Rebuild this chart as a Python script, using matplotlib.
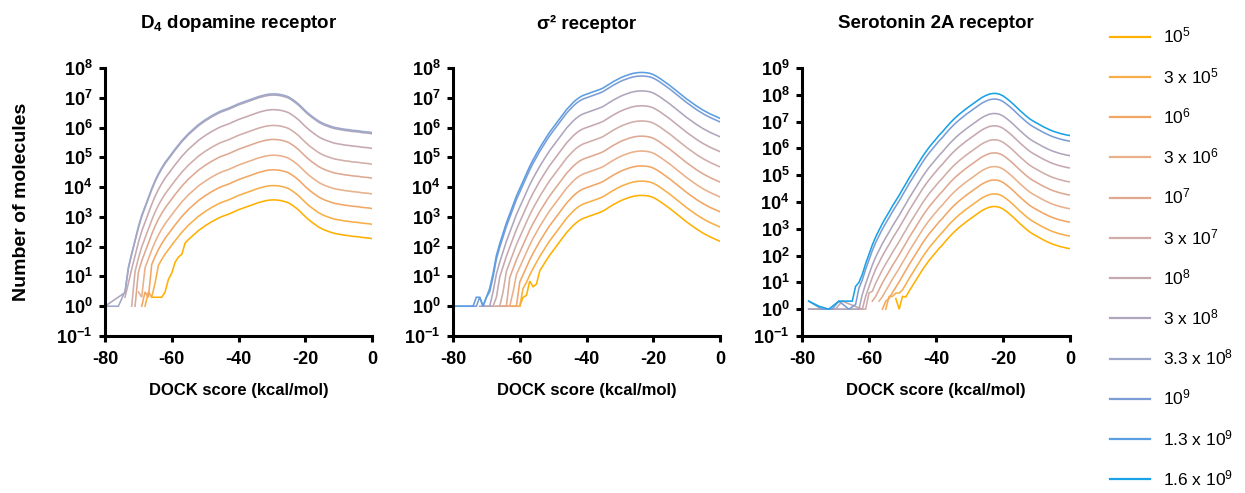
import matplotlib
matplotlib.use('Agg')
import matplotlib.pyplot as plt
from matplotlib.lines import Line2D

plt.rcParams['font.family'] = ['Liberation Sans', 'DejaVu Sans']
plt.rcParams['mathtext.fontset'] = 'custom'
plt.rcParams['mathtext.rm'] = 'Liberation Sans'
plt.rcParams['mathtext.bf'] = 'Liberation Sans:bold'
plt.rcParams['mathtext.default'] = 'regular'

# library sizes (legend) and their line colours
lib_labels = ['10$^{5}$', '3 x 10$^{5}$', '10$^{6}$', '3 x 10$^{6}$', '10$^{7}$', '3 x 10$^{7}$',
              '10$^{8}$', '3 x 10$^{8}$', '3.3 x 10$^{8}$', '10$^{9}$', '1.3 x 10$^{9}$', '1.6 x 10$^{9}$']
lib_colors = ['#FFB000', '#F8AE48', '#F2A664', '#E9B08A', '#DEA891', '#D0ADA8',
              '#C6A8AF', '#AFA5BC', '#9DA8CA', '#7B9DD6', '#5B9EE1', '#1AA2E7']

# ---- D4 dopamine receptor ----
# log10(count) of the largest library, one value per kcal/mol bin
d4_scores = list(range(-74, 1))
d4_top_log = [0.5, 1.3, 1.78, 2.22, 2.67, 3.05, 3.35, 3.65, 3.95, 4.22,
              4.45, 4.65, 4.83, 4.98, 5.13, 5.28, 5.42, 5.56, 5.68, 5.8,
              5.9, 6.0, 6.1, 6.18, 6.26, 6.33, 6.4, 6.46, 6.52, 6.57,
              6.61, 6.65, 6.7, 6.75, 6.8, 6.84, 6.88, 6.92, 6.96, 7.0,
              7.04, 7.07, 7.1, 7.12, 7.13, 7.13, 7.12, 7.1, 7.07, 7.03,
              6.96, 6.88, 6.79, 6.68, 6.57, 6.47, 6.38, 6.3, 6.22, 6.16,
              6.11, 6.07, 6.03, 6.0, 5.98, 5.96, 5.94, 5.93, 5.91, 5.9,
              5.89, 5.87, 5.86, 5.85, 5.83]
d4_ids = [0, 1, 2, 3, 4, 5, 6, 7, 8]
d4_peak_log = [3.57, 4.05, 4.58, 5.07, 5.6, 6.07, 6.6, 7.09, 7.13]
d4_head_x = [[-66, -65, -64, -63, -62, -61, -60, -59, -58, -57], [-68, -67, -66, -65],
             [-69, -68, -67], [-70, -69], [-71], [-72], [-74], [-80], [-80, -76]]
d4_head_y = [[2, 2, 2, 2, 3, 8, 13, 30, 45, 55], [1, 3, 2, 6],
             [1, 3, 2], [3, 2], [1], [1], [2], [1], [1, 1]]

# ---- sigma2 receptor ----
s2_scores = list(range(-69, 1))
s2_top_log = [0.6, 1.1, 1.7, 2.1, 2.45, 2.8, 3.1, 3.4, 3.7, 3.95,
              4.2, 4.45, 4.7, 4.92, 5.12, 5.32, 5.5, 5.68, 5.85, 6.0,
              6.15, 6.3, 6.45, 6.6, 6.72, 6.84, 6.94, 7.02, 7.08, 7.12,
              7.16, 7.2, 7.24, 7.28, 7.33, 7.4, 7.47, 7.54, 7.6, 7.66,
              7.71, 7.75, 7.79, 7.82, 7.84, 7.85, 7.85, 7.84, 7.82, 7.78,
              7.72, 7.65, 7.57, 7.49, 7.41, 7.32, 7.23, 7.14, 7.05, 6.96,
              6.88, 6.8, 6.72, 6.65, 6.58, 6.52, 6.46, 6.41, 6.36, 6.31]
s2_ids = [0, 1, 2, 3, 4, 5, 6, 7, 9, 10]
s2_peak_log = [3.72, 4.2, 4.71, 5.21, 5.71, 6.22, 6.73, 7.23, 7.73, 7.85]
s2_head_x = [[-60, -59, -58, -57, -56, -55], [-65, -60, -59], [-65, -61], [-66, -63, -62],
             [-67, -64], [-69, -66, -65], [-71, -68, -67], [-72, -69],
             [-80, -73, -72, -71, -70], [-80, -74, -73, -72, -71, -70]]
s2_head_y = [[1, 2, 2.3, 7, 4.5, 5.5], [1, 1, 4], [1, 1], [1, 1, 3],
             [1, 1], [1, 1, 3], [1, 1, 2], [1, 1],
             [1, 1, 2, 1, 2], [1, 1, 2, 2, 1, 2]]

# ---- serotonin 2A receptor ----
ht_scores = list(range(-64, 1))
ht_top_log = [0.85, 1.0, 1.3, 1.7, 2.05, 2.4, 2.7, 2.95, 3.2, 3.42,
              3.63, 3.85, 4.05, 4.25, 4.47, 4.68, 4.9, 5.1, 5.3, 5.5,
              5.7, 5.88, 6.05, 6.2, 6.35, 6.5, 6.63, 6.78, 6.92, 7.05,
              7.17, 7.28, 7.38, 7.48, 7.57, 7.66, 7.75, 7.84, 7.92, 7.98,
              8.03, 8.05, 8.05, 8.02, 7.96, 7.87, 7.77, 7.66, 7.54, 7.42,
              7.31, 7.2, 7.1, 7.02, 6.95, 6.88, 6.81, 6.75, 6.69, 6.64,
              6.6, 6.56, 6.53, 6.5, 6.48]
ht_ids = [0, 1, 2, 3, 4, 5, 6, 7, 9, 11]
ht_peak_log = [3.83, 4.3, 4.82, 5.32, 5.83, 6.32, 6.84, 7.3, 7.84, 8.05]
ht_head_x = [[-52, -51, -50], [-55, -54, -53, -52, -51], [-56, -55], [-57], [-59],
             [-78, -61, -60], [-78, -70, -68, -62, -61], [-78, -63, -62],
             [-78, -74, -71, -69, -66, -64], [-78, -75, -72, -69, -65]]
ht_head_y = [[2.5, 1, 3], [1, 3, 3, 4, 4], [1, 2], [2], [2],
             [1, 1, 4], [1, 1, 2, 1, 3], [1, 1, 3.5],
             [2, 1, 1, 2, 1, 1.5], [2, 1.3, 1, 2, 2]]

titles = [r'$\mathbf{D_4}$ dopamine receptor', 'σ² receptor', 'Serotonin 2A receptor']


def draw_panel(ax, scores, top_log, ids, peaks, head_x, head_y, ytop):
    top_peak = max(top_log)
    for k, i in enumerate(ids):
        hx, hy = head_x[k], head_y[k]
        xs = list(hx)
        ys = list(hy)
        for s, v in zip(scores, top_log):
            if s > hx[-1]:
                xs.append(s)
                ys.append(10 ** (v - top_peak + peaks[k]))
        ax.plot(xs, ys, color=lib_colors[i], lw=1.15, solid_joinstyle='miter')
    ax.set_yscale('log')
    ax.set_xlim(-80, 0)
    ax.set_ylim(0.1, 10 ** ytop)
    ax.set_xticks([-80, -60, -40, -20, 0])
    ax.set_xticklabels(['-80', '-60', '-40', '-20', '0'], fontweight='bold', fontsize=13)
    ax.set_yticks([10.0 ** p for p in range(-1, ytop + 1)])
    ax.set_yticklabels([r'$\mathbf{10^{%d}}$' % p for p in range(-1, ytop + 1)], fontsize=13)
    ax.minorticks_off()
    for side in ['top', 'right']:
        ax.spines[side].set_visible(False)
    for side in ['left', 'bottom']:
        ax.spines[side].set_linewidth(2.2)
    ax.tick_params(width=2.2, length=4, direction='out', pad=5)
    ax.tick_params(axis='x', pad=7)


fig = plt.figure(figsize=(12.45, 4.93), dpi=100)
lefts = [105, 453, 802]
widths = [267, 267, 268]
panels = [
    (d4_scores, d4_top_log, d4_ids, d4_peak_log, d4_head_x, d4_head_y, 8),
    (s2_scores, s2_top_log, s2_ids, s2_peak_log, s2_head_x, s2_head_y, 8),
    (ht_scores, ht_top_log, ht_ids, ht_peak_log, ht_head_x, ht_head_y, 9),
]
for n, p in enumerate(panels):
    ax = fig.add_axes([lefts[n] / 1245, 1 - 336 / 493, widths[n] / 1245, 268 / 493])
    draw_panel(ax, *p)
    cx = (lefts[n] + widths[n] / 2) / 1245
    fig.text(cx, 1 - 24 / 493, titles[n], ha='center', va='center', fontsize=13.5, fontweight='bold')
    fig.text(cx, 1 - 390 / 493, 'DOCK score (kcal/mol)', ha='center', va='center',
             fontsize=12, fontweight='bold')

fig.text(22 / 1245, 1 - 202 / 493, 'Number of molecules', rotation=90, ha='center', va='center',
         fontsize=14, fontweight='bold')

handles = [Line2D([], [], color=c, lw=1.6) for c in lib_colors]
fig.legend(handles, lib_labels, loc='upper left', bbox_to_anchor=(1110 / 1245, 1 - 26 / 493),
           frameon=False, fontsize=12.5, handlelength=2.3, handletextpad=0.75,
           labelspacing=1.17, borderpad=0, borderaxespad=0)

fig.savefig('out.png', dpi=100)
